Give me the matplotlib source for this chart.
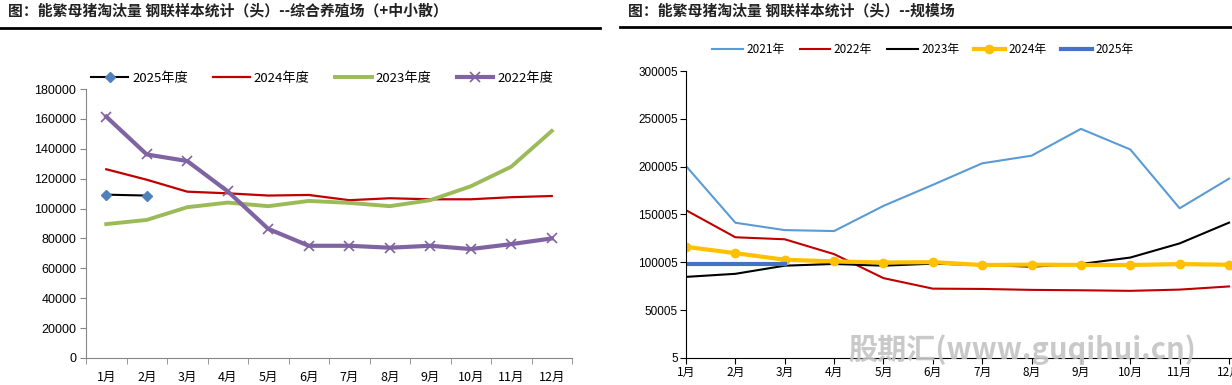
import matplotlib
matplotlib.use("Agg")
import matplotlib.pyplot as plt
import numpy as np

plt.rcParams['font.family'] = ['Liberation Sans', 'Noto Sans CJK SC', 'DejaVu Sans']
cjk = ['Noto Sans CJK SC', 'DejaVu Sans']

months = ['1月', '2月', '3月', '4月', '5月', '6月', '7月', '8月', '9月', '10月', '11月', '12月']

# left panel: 综合养殖场（+中小散）
left_2025 = [109300, 108700]
left_2024 = [126300, 119300, 111300, 110200, 108700, 109100, 105600, 106900, 106200, 106200, 107600, 108400]
left_2023 = [89600, 92400, 100900, 104000, 101600, 105100, 103800, 101600, 105600, 114900, 128000, 151900]
left_2022 = [161500, 136200, 131800, 111500, 86400, 75100, 75100, 73800, 75100, 72900, 76200, 80000]

# right panel: 规模场
right_2021 = [200700, 141400, 133700, 132700, 159000, 181000, 203500, 211500, 239500, 218000, 156500, 187500]
right_2022 = [154500, 126200, 124100, 108600, 83500, 72500, 72200, 71200, 70800, 70200, 71500, 74800]
right_2023 = [84800, 88000, 96500, 98300, 96500, 98600, 97200, 95500, 98300, 105000, 119800, 141500]
right_2024 = [116200, 109600, 102700, 101000, 99800, 100200, 97200, 97600, 97300, 97200, 98200, 97500]
right_2025 = [98300, 98300, 98300]

fig = plt.figure(figsize=(12.32, 3.85), dpi=100)

##titles and rules
fig.text(8 / 1232, 1 - 11 / 385, '图：能繁母猪淘汰量 钢联样本统计（头）--综合养殖场（+中小散）',
         family=cjk, fontsize=10.7, weight='bold', color='#222222', va='center')
fig.text(628 / 1232, 1 - 11 / 385, '图：能繁母猪淘汰量 钢联样本统计（头）--规模场',
         family=cjk, fontsize=10.7, weight='bold', color='#222222', va='center')
fig.add_artist(plt.Line2D([0, 600 / 1232], [1 - 28 / 385] * 2, color='black', lw=2))
fig.add_artist(plt.Line2D([620 / 1232, 1], [1 - 27 / 385] * 2, color='black', lw=2))

##left chart
ax1 = fig.add_axes([86 / 1232, 1 - 358 / 385, (572 - 86) / 1232, (358 - 89) / 385])
x = np.arange(len(months))
ax1.plot(x[:len(left_2025)], left_2025, color='black', lw=1.5, marker='D', ms=5,
         mfc='#4F81BD', mec='#4F81BD', label='2025年度', zorder=5)
ax1.plot(x, left_2024, color='#C00000', lw=1.6, label='2024年度')
ax1.plot(x, left_2023, color='#9BBB59', lw=2.8, label='2023年度')
ax1.plot(x, left_2022, color='#8064A2', lw=3, marker='x', ms=7, mew=1.2, label='2022年度')
ax1.set_xlim(-0.5, 11.5)
ax1.set_ylim(0, 180000)
ax1.set_yticks(np.arange(0, 180001, 20000))
ax1.set_xticks(x)
ax1.set_xticklabels(months, family=cjk, fontsize=9)
ax1.set_xticks(np.arange(-0.5, 12, 1), minor=True)
ax1.tick_params(axis='x', which='major', length=0, pad=9)
ax1.tick_params(axis='x', which='minor', length=4, color='#868686')
ax1.tick_params(axis='y', length=4, color='#868686', labelsize=9, pad=3)
for s in ['top', 'right']:
    ax1.spines[s].set_visible(False)
for s in ['left', 'bottom']:
    ax1.spines[s].set_color('#868686')
ax1.legend(loc='center', bbox_to_anchor=(0.486, 1.04), ncol=4, frameon=False,
           prop={'family': cjk, 'size': 9.5}, handlelength=2.8, columnspacing=1.9, handletextpad=0.3)

##right chart
ax2 = fig.add_axes([686 / 1232, 1 - 358 / 385, (1232 - 686) / 1232, (358 - 71) / 385])
xr = np.arange(1, 13)
ax2.plot(xr, right_2021, color='#5B9BD5', lw=1.5, label='2021年')
ax2.plot(xr, right_2022, color='#C00000', lw=1.5, label='2022年')
ax2.plot(xr, right_2023, color='black', lw=1.5, label='2023年')
ax2.plot(xr, right_2024, color='#FFC000', lw=3, marker='o', ms=6, label='2024年')
ax2.plot(xr[:len(right_2025)], right_2025, color='#4472C4', lw=3, label='2025年')
ax2.set_xlim(1, 12.06)
ax2.set_ylim(5, 300005)
ax2.set_yticks(np.arange(5, 300006, 50000))
ax2.set_xticks(xr)
ax2.set_xticklabels(months, family=cjk, fontsize=9)
ax2.tick_params(axis='both', length=4, color='black', labelsize=8.5, pad=2)
for s in ['top', 'right']:
    ax2.spines[s].set_visible(False)
ax2.legend(loc='center', bbox_to_anchor=(0.434, 1.075), ncol=5, frameon=False,
           prop={'family': cjk, 'size': 8.5}, handlelength=2.6, columnspacing=1.25, handletextpad=0.3)

##watermark
fig.text(1022 / 1232, 1 - 350 / 385, '股期汇(www.guqihui.cn)', family=cjk, fontsize=21,
         weight='bold', style='italic', color='#c4c4c4', ha='center', va='center', alpha=0.9)

plt.savefig('out.png', dpi=100)
